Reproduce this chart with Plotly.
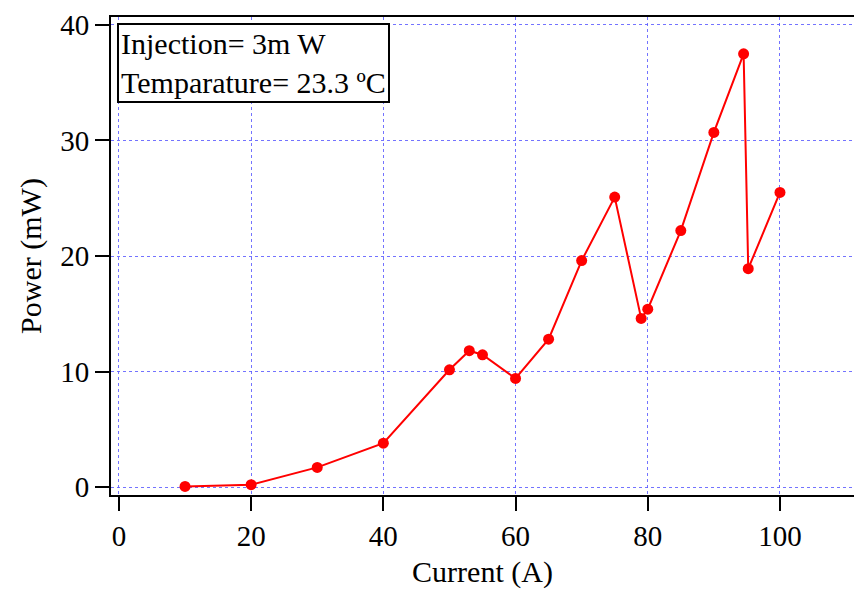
import plotly.graph_objects as go

current = [10, 20, 30, 40, 50, 53, 55, 60, 65, 70, 75, 79, 80, 85, 90, 94.5, 95.2, 100]
power = [0.05, 0.2, 1.7, 3.8, 10.15, 11.8, 11.45, 9.4, 12.8, 19.6, 25.1, 14.6, 15.4, 22.2, 30.7, 37.5, 18.9, 25.5]

x_ticks = [0, 20, 40, 60, 80, 100]
y_ticks = [0, 10, 20, 30, 40]
note_lines = ["Injection= 3m W", "Temparature= 23.3 ºC"]

FONT = "Liberation Serif, Times New Roman, serif"
GRID = "rgba(90,90,255,0.85)"

fig = go.Figure()
fig.add_trace(go.Scatter(
    x=current, y=power, mode="lines+markers",
    line=dict(color="#ff0000", width=2),
    marker=dict(color="#ff0000", size=11),
    showlegend=False,
))

fig.update_layout(
    width=854, height=592,
    margin=dict(l=111, r=0, t=17, b=97),
    paper_bgcolor="white", plot_bgcolor="white",
    font=dict(family=FONT, size=30, color="black"),
    xaxis=dict(
        range=[-1.2, 111.2], tickvals=x_ticks,
        showgrid=True, gridcolor=GRID, griddash="dot", gridwidth=1,
        showline=True, linecolor="black", linewidth=2, mirror=True,
        ticks="outside", ticklen=14, tickwidth=2, tickcolor="black",
        zeroline=False, tickfont=dict(family=FONT, size=29),
        title=dict(text="Current (A)", font=dict(family=FONT, size=30), standoff=10),
    ),
    yaxis=dict(
        range=[-0.69, 40.69], tickvals=y_ticks,
        showgrid=True, gridcolor=GRID, griddash="dot", gridwidth=1,
        showline=True, linecolor="black", linewidth=2, mirror=False,
        ticks="outside", ticklen=14, tickwidth=2, tickcolor="black",
        zeroline=False, tickfont=dict(family=FONT, size=29),
        title=dict(text="Power (mW)", font=dict(family=FONT, size=30), standoff=10),
    ),
    annotations=[dict(
        xref="paper", yref="paper", x=0.0085, y=0.987,
        xanchor="left", yanchor="top",
        text="<br>".join(note_lines), align="left", showarrow=False,
        font=dict(family=FONT, size=30, color="black"),
        bordercolor="black", borderwidth=2, borderpad=2, bgcolor="white",
    )],
)

fig.write_html("out.html")
